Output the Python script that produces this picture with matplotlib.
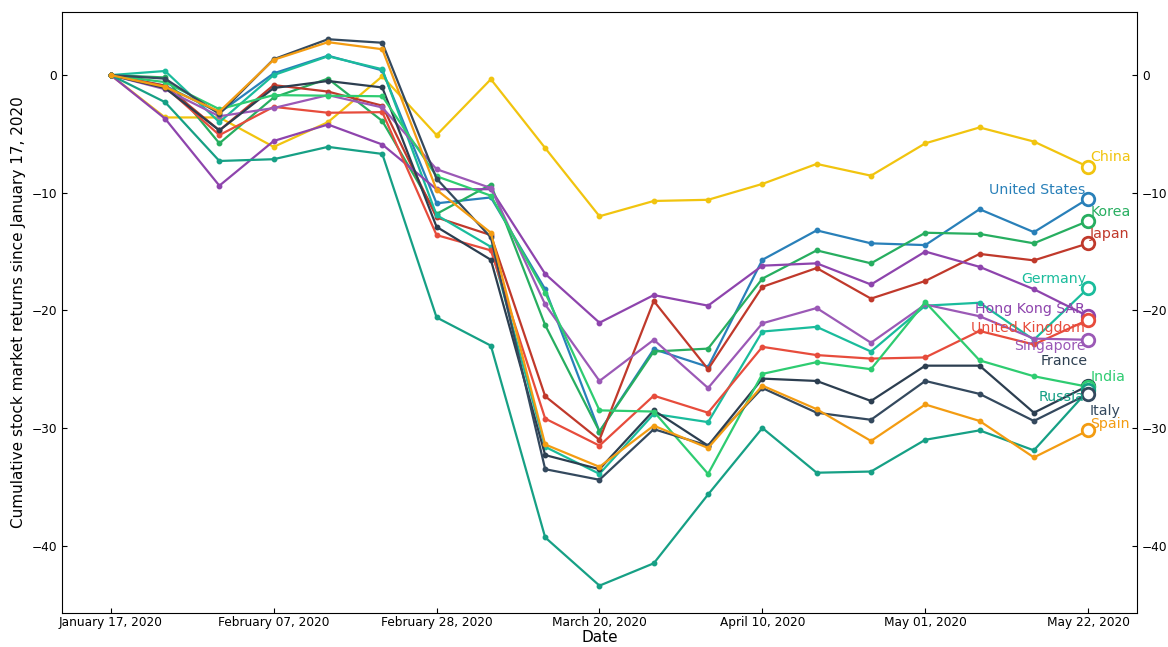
import matplotlib
matplotlib.use("Agg")
import matplotlib.pyplot as plt
import matplotlib.dates as mdates
import pandas as pd

# Weekly Friday closes, cumulative % change since 17 Jan 2020
dates = pd.date_range("2020-01-17", periods=19, freq="7D")

china = [0, -3.6, -3.6, -6.1, -4.0, -0.1, -5.1, -0.35, -6.2, -12.0, -10.7, -10.6,
         -9.25, -7.55, -8.55, -5.8, -4.45, -5.65, -7.8]
united_states = [0, -0.9, -3.2, 0.15, 1.65, 0.4, -10.9, -10.4, -18.2, -30.3, -23.3, -24.8,
                 -15.7, -13.2, -14.3, -14.45, -11.4, -13.35, -10.5]
korea = [0, -0.2, -5.8, -1.9, -0.3, -3.9, -11.8, -9.3, -21.25, -30.3, -23.5, -23.25,
         -17.3, -14.9, -16.0, -13.4, -13.5, -14.3, -12.4]
japan = [0, -0.9, -4.7, -0.85, -1.4, -2.6, -12.1, -13.6, -27.3, -31.0, -19.2, -25.0,
         -18.0, -16.4, -19.0, -17.5, -15.2, -15.75, -14.3]
germany = [0, 0.35, -4.0, 0.0, 1.6, 0.5, -11.9, -14.6, -31.6, -33.9, -28.8, -29.5,
           -21.8, -21.4, -23.5, -19.6, -19.35, -22.5, -18.1]
hong_kong = [0, -3.7, -9.4, -5.6, -4.2, -5.9, -9.7, -9.7, -16.9, -21.05, -18.7, -19.6,
             -16.2, -16.0, -17.8, -15.0, -16.3, -18.2, -20.5]
united_kingdom = [0, -1.0, -5.1, -2.7, -3.2, -3.15, -13.6, -14.9, -29.2, -31.5, -27.25, -28.7,
                  -23.1, -23.8, -24.1, -24.0, -21.75, -22.9, -20.8]
singapore = [0, -1.2, -3.5, -2.8, -1.7, -2.75, -8.0, -9.6, -19.5, -26.0, -22.5, -26.6,
             -21.1, -19.8, -22.75, -19.5, -20.5, -22.4, -22.5]
france = [0, -1.1, -4.7, -1.1, -0.5, -1.05, -12.9, -15.7, -32.3, -33.5, -28.5, -31.5,
          -25.8, -26.0, -27.7, -24.7, -24.7, -28.7, -26.4]
india = [0, -0.6, -2.9, -1.7, -1.75, -1.8, -8.6, -10.25, -18.5, -28.5, -28.6, -33.9,
         -25.4, -24.4, -25.0, -19.3, -24.25, -25.6, -26.5]
russia = [0, -2.3, -7.3, -7.15, -6.1, -6.7, -20.6, -23.0, -39.3, -43.4, -41.5, -35.65,
          -30.0, -33.8, -33.7, -31.0, -30.2, -31.9, -26.8]
italy = [0, -0.3, -3.3, 1.35, 3.05, 2.75, -8.8, -13.8, -33.5, -34.4, -30.1, -31.5,
         -26.6, -28.7, -29.3, -26.0, -27.1, -29.4, -27.1]
spain = [0, -1.0, -3.1, 1.3, 2.8, 2.2, -9.75, -13.4, -31.4, -33.3, -29.8, -31.7,
         -26.4, -28.4, -31.1, -28.0, -29.4, -32.5, -30.2]

markets = ["China", "United States", "Korea", "Japan", "Germany", "Hong Kong SAR",
           "United Kingdom", "Singapore", "France", "India", "Russia", "Italy", "Spain"]
series = [china, united_states, korea, japan, germany, hong_kong, united_kingdom,
          singapore, france, india, russia, italy, spain]
colors = ["#f1c40f", "#2980b9", "#27ae60", "#c0392b", "#1abc9c", "#8e44ad", "#e74c3c",
          "#9b59b6", "#2c3e50", "#2ecc71", "#16a085", "#34495e", "#f39c12"]

# label placement next to the last point: (dx, dy) in pixels, horizontal alignment
label_offsets = {
    "China": (2, 10, "left"),
    "United States": (-3, 9, "right"),
    "Korea": (2, 9, "left"),
    "Japan": (2, 9, "left"),
    "Germany": (-2, 9, "right"),
    "Hong Kong SAR": (-3, 7, "right"),
    "United Kingdom": (-3, -8, "right"),
    "Singapore": (-2, -6, "right"),
    "France": (0, 25, "right"),
    "India": (2, 10, "left"),
    "Russia": (-4, -7, "right"),
    "Italy": (1, -17, "left"),
    "Spain": (2, 6, "left"),
}

fig = plt.figure(figsize=(11.68, 6.47), dpi=100)
ax = fig.add_axes([0.053, 0.0526, 0.9205, 0.929])

for name, vals, col in zip(markets, series, colors):
    ax.plot(dates, vals, color=col, lw=1.6, marker="o", ms=3.2, zorder=2)
    ax.plot(dates[-1], vals[-1], marker="o", ms=9, mfc="white", mec=col, mew=2,
            ls="none", zorder=3)
    dx, dy, ha = label_offsets[name]
    ax.annotate(name, xy=(dates[-1], vals[-1]), xytext=(dx, dy),
                textcoords="offset pixels", ha=ha, va="center",
                color=col, fontsize=10.2, zorder=4)

ax.set_xticks(dates[::3])
ax.xaxis.set_major_formatter(mdates.DateFormatter("%B %d, %Y"))
ax.set_yticks([0, -10, -20, -30, -40])
ax.tick_params(axis="both", direction="in", labelsize=8.7, length=3.5)
ax.tick_params(axis="x", pad=2)
ax.tick_params(axis="y", left=True, right=True, labelleft=True, labelright=True)

ax.set_xlabel("Date", fontsize=11, labelpad=1)
ax.set_ylabel("Cumulative stock market returns since January 17, 2020", fontsize=11)

fig.savefig("out.png", dpi=100)
